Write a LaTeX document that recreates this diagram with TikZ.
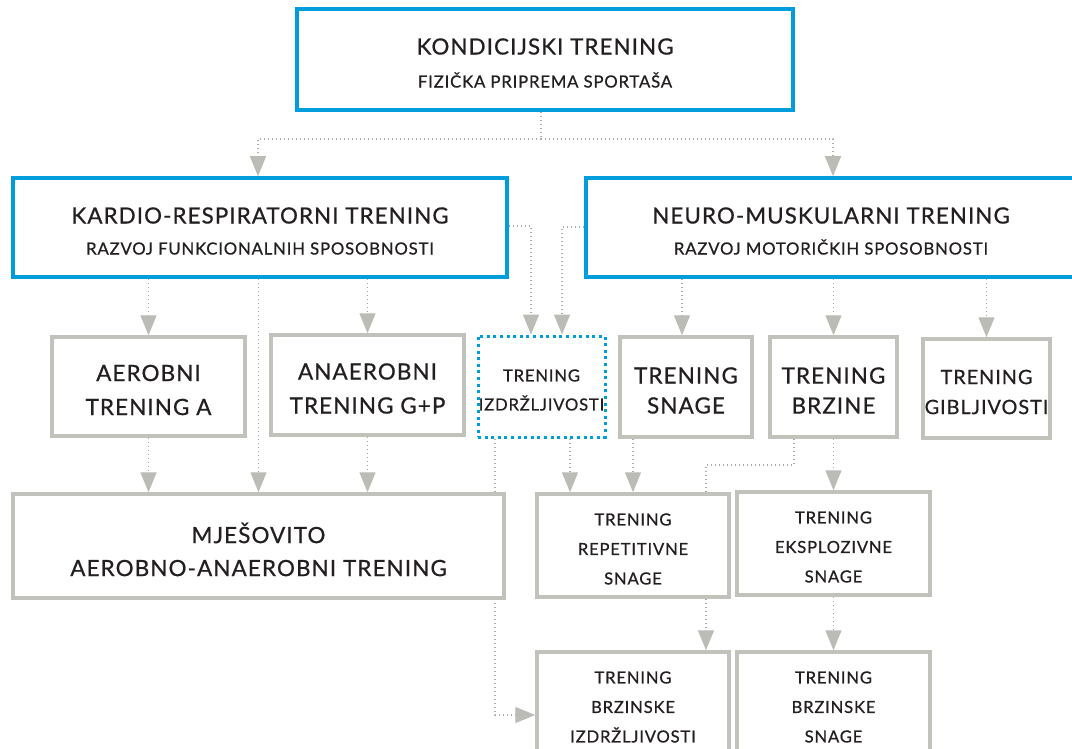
\documentclass[tikz,border=0pt]{standalone}
\usepackage{fontspec}
\setmainfont{Lato}[LetterSpace=5, FakeBold=0.7]
\usetikzlibrary{arrows.meta}
\definecolor{cblue}{RGB}{0,157,220}
\definecolor{cgray}{RGB}{194,194,189}
\definecolor{cline}{RGB}{172,172,172}
\definecolor{ctip}{RGB}{188,188,183}
\definecolor{ctext}{RGB}{35,31,32}
\pgfdeclarelayer{back}
\pgfdeclarelayer{bg}
\pgfsetlayers{back,bg,main}
\newcommand\fszB{\fontsize{16.7}{18}\selectfont}
\tikzset{
  boxbase/.style={line width=3.5pt, fill=white, inner sep=0pt},
  bluebox/.style={boxbase, draw=cblue},
  graybox/.style={boxbase, draw=cgray},
  dotbox/.style={boxbase, draw=cblue, line width=3pt, dash pattern=on 3pt off 3.6pt},
  txt/.style={align=center, text=ctext, inner sep=0pt, yshift=-3.5pt},
  conn/.style={cline, line width=1.4pt, dash pattern=on 1.4pt off 2.6pt},
  arr/.style={conn, -{Triangle[width=16pt,length=20pt,color=ctip]}},
}
\begin{document}
\begin{tikzpicture}[x=1pt,y=-1pt]
\useasboundingbox (0,0) rectangle (1072,749);
\clip (0,0) rectangle (1072,749);
\begin{pgfonlayer}{back}
\fill[white] (0,0) rectangle (1072,749);
\end{pgfonlayer}

% boxes
\node[bluebox, minimum width=496pt, minimum height=101pt,
  label={[txt, font={\fontsize{22.3}{33}\selectfont}]center:{KONDICIJSKI TRENING\\{\fszB FIZIČKA PRIPREMA SPORTAŠA}}}] (top) at (545,59.5) {};
\node[bluebox, minimum width=494pt, minimum height=99pt,
  label={[txt, font={\fontsize{22.3}{31}\selectfont}]center:{KARDIO-RESPIRATORNI TRENING\\{\fszB RAZVOJ FUNKCIONALNIH SPOSOBNOSTI}}}] (kr) at (260,227.5) {};
\node[bluebox, minimum width=490pt, minimum height=99pt,
  label={[txt, font={\fontsize{22.3}{31}\selectfont}]center:{NEURO-MUSKULARNI TRENING\\{\fszB RAZVOJ MOTORIČKIH SPOSOBNOSTI}}}] (nm) at (831,227.5) {};

\node[graybox, minimum width=193pt, minimum height=99pt,
  label={[txt, font={\fontsize{22.4}{34}\selectfont}]center:{AEROBNI\\TRENING A}}] (aer) at (148.5,386.5) {};
\node[graybox, minimum width=193pt, minimum height=100pt,
  label={[txt, font={\fontsize{22.4}{34}\selectfont}]center:{ANAEROBNI\\TRENING G+P}}] (ana) at (367.5,385) {};
\node[dotbox, minimum width=127pt, minimum height=101pt,
  label={[txt, font={\fontsize{16.6}{29}\selectfont}]center:{TRENING\\IZDRŽLJIVOSTI}}] (izd) at (541.5,386.5) {};
\node[graybox, minimum width=132pt, minimum height=100pt,
  label={[txt, font={\fontsize{22.4}{30}\selectfont}]center:{TRENING\\SNAGE}}] (sna) at (686,387) {};
\node[graybox, minimum width=127pt, minimum height=100pt,
  label={[txt, font={\fontsize{22.4}{30}\selectfont}]center:{TRENING\\BRZINE}}] (brz) at (833.5,387) {};
\node[graybox, minimum width=127pt, minimum height=99pt,
  label={[txt, font={\fontsize{19.8}{30}\selectfont}]center:{TRENING\\GIBLJIVOSTI}}] (gib) at (986.5,388.5) {};

\node[graybox, minimum width=491pt, minimum height=104pt,
  label={[txt, font={\fontsize{22.4}{33}\selectfont}]center:{MJEŠOVITO\\AEROBNO-ANAEROBNI TRENING}}] (mje) at (258.5,546) {};
\node[graybox, minimum width=192pt, minimum height=103pt,
  label={[txt, font={\fontsize{16.6}{29.5}\selectfont}]center:{TRENING\\REPETITIVNE\\SNAGE}}] (rep) at (633,545.5) {};
\node[graybox, minimum width=193pt, minimum height=103pt,
  label={[txt, font={\fontsize{16.6}{29.5}\selectfont}]center:{TRENING\\EKSPLOZIVNE\\SNAGE}}] (eks) at (833.5,543.5) {};
\node[graybox, minimum width=192pt, minimum height=103pt,
  label={[txt, font={\fontsize{16.6}{29.5}\selectfont}]center:{TRENING\\BRZINSKE\\IZDRŽLJIVOSTI}}] (bri) at (633,703.5) {};
\node[graybox, minimum width=193pt, minimum height=103pt,
  label={[txt, font={\fontsize{16.6}{29.5}\selectfont}]center:{TRENING\\BRZINSKE\\SNAGE}}] (brs) at (833.5,703.5) {};

% connectors
\begin{pgfonlayer}{bg}
\coordinate (split) at (541,139);
\draw[conn] (top.south -| split) -- (split);
\draw[arr] (split) -| ([xshift=-2pt]kr.north);
\draw[arr] (split) -| ([xshift=2pt]nm.north);

\draw[arr] (kr.south -| aer.north) -- (aer.north);
\draw[arr] (kr.south -| ana.north) -- (ana.north);
\draw[arr] (kr.south -| mje.north) -- (mje.north);
\draw[arr] ([yshift=1.5pt]kr.east) -| ([xshift=-10.5pt]izd.north);
\draw[arr] ([yshift=0.5pt]nm.west) -| ([xshift=20.5pt]izd.north);
\draw[arr] ([xshift=-4pt]nm.south -| sna.north) -- ([xshift=-4pt]sna.north);
\draw[arr] (nm.south -| brz.north) -- (brz.north);
\draw[arr] (nm.south -| gib.north) -- (gib.north);

\draw[arr] (aer.south) -- (aer.south |- mje.north);
\draw[arr] (ana.south) -- (ana.south |- mje.north);
\draw[arr] ([xshift=28.5pt]izd.south) -- ([xshift=28.5pt]izd.south |- rep.north);
\draw[arr] (sna.south -| rep.north) -- (rep.north);
\coordinate (bend) at (794,465);
\draw[conn] (brz.south -| bend) -- (bend) -| ([xshift=73pt]rep.north);
\draw[arr] (brz.south) -- (brz.south |- eks.north);

\draw[arr] ([xshift=73pt]rep.south) -- ([xshift=73pt]rep.south |- bri.north);
\draw[arr] (eks.south) -- (eks.south |- brs.north);
\draw[arr] ([xshift=-46.5pt]izd.south) |- ([yshift=-11.5pt]bri.west);
\end{pgfonlayer}
\end{tikzpicture}
\end{document}
